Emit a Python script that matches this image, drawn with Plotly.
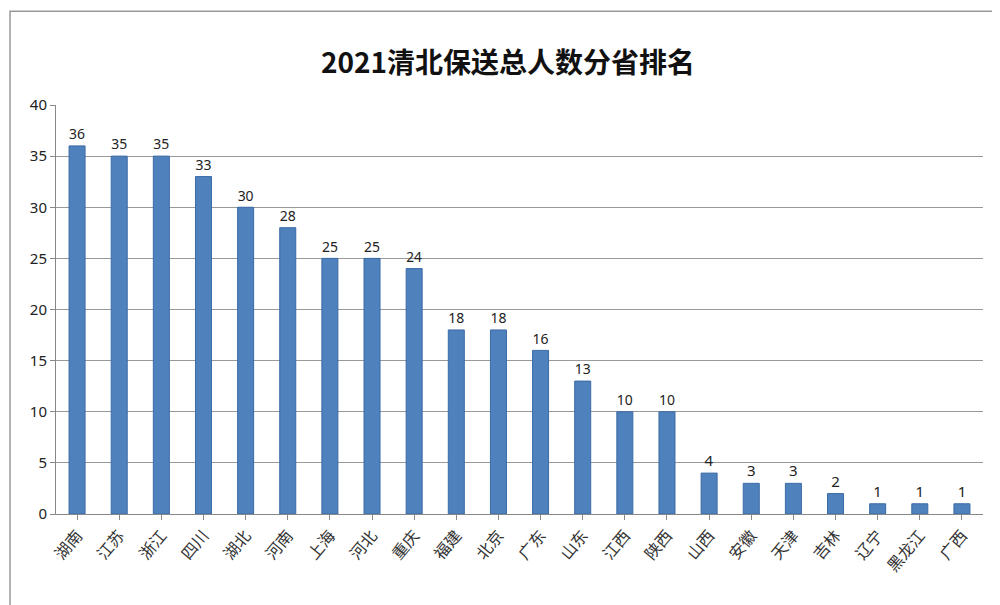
import plotly.graph_objects as go

provinces = ["湖南","江苏","浙江","四川","湖北","河南","上海","河北","重庆","福建","北京","广东","山东","江西","陕西","山西","安徽","天津","吉林","辽宁","黑龙江","广西"]
counts = [36,35,35,33,30,28,25,25,24,18,18,16,13,10,10,4,3,3,2,1,1,1]

fig = go.Figure(go.Bar(
    x=provinces, y=counts, text=counts, textposition="outside",
    textfont=dict(size=15, color="#222", family="Noto Sans"),
    marker=dict(color="#4F81BD", line=dict(color="#3A6AA6", width=1)),
    cliponaxis=False,
))
fig.update_layout(
    width=1000, height=605,
    margin=dict(l=48, r=25, t=97, b=99, autoexpand=False),
    paper_bgcolor="white", plot_bgcolor="white",
    title=dict(text="<b>2021清北保送总人数分省排名</b>", x=0.5, xanchor="center", y=0.925,
               font=dict(size=28, color="#111", family="Noto Sans CJK SC")),
    bargap=0.62, showlegend=False,
    shapes=[dict(type="rect", xref="paper", yref="paper", x0=-0.0496, x1=1.024, y0=-0.237, y1=1.229,
                 line=dict(color="#999", width=1.5))],
)
fig.update_xaxes(tickangle=-50, tickfont=dict(size=16, color="#333", family="Noto Sans CJK SC"),
                 showline=True, linecolor="#888", ticks="outside", tickcolor="#888", automargin=False)
fig.update_yaxes(range=[0, 40], dtick=5, showgrid=True, gridcolor="#999", gridwidth=1,
                 showline=True, linecolor="#888", ticks="outside", tickcolor="#888", automargin=False,
                 tickfont=dict(size=15, color="#222", family="Noto Sans"))
fig.write_html("out.html")
